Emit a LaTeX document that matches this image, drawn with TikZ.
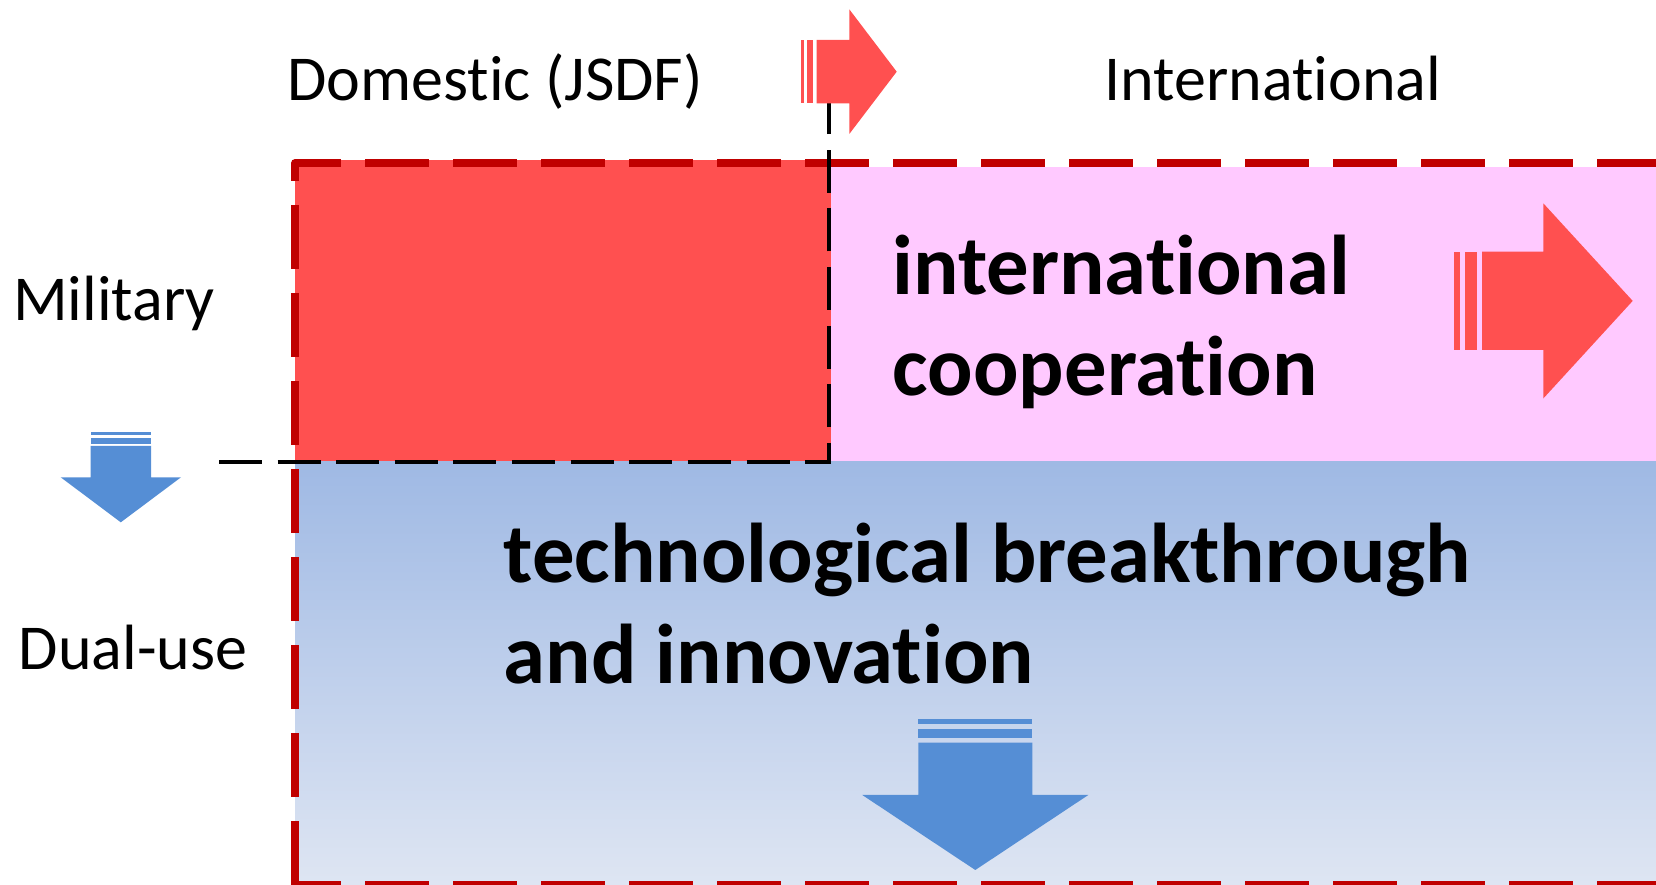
\documentclass[tikz,border=0pt]{standalone}
\usepackage{fontspec}
\setmainfont{Carlito}[Ligatures={NoCommon}]
\usepackage{tikz}
\usetikzlibrary{positioning}
\definecolor{boxred}{HTML}{FF5050}
\definecolor{edgered}{HTML}{C00000}
\definecolor{coopink}{HTML}{FFC9FF}
\definecolor{arrowblue}{HTML}{558ED5}
\definecolor{techtop}{HTML}{9FB9E4}
\definecolor{techbottom}{HTML}{DFE6F3}
\tikzset{
	axistext/.style={font=\fontsize{18.2}{22}\selectfont, inner sep=0pt, anchor=base},
	bigtext/.style={font=\fontsize{24.1}{29}\selectfont\bfseries, inner sep=0pt, anchor=base west},
	edgeline/.style={line width=2.13pt, color=edgered, dash pattern=on 18.2pt off 6.83pt},
	splitline/.style={line width=1.4pt, color=black, dash pattern=on 12.2pt off 4.47pt}
}

\begin{document}
\begin{tikzpicture}[x=0.01cm, y=-0.01cm]
			%%%%% START %%%%%
			\useasboundingbox (0, 0) rectangle (1656, 885);
			
			\fill[boxred] (295, 160) rectangle (831, 462);
			\fill[coopink] (831, 167) rectangle (1700, 462);
			\shade[top color=techtop, bottom color=techbottom] (295, 462) rectangle (1700, 890);
			
			\draw[edgeline, line join=round] (295, 181) -- (295, 163) -- (1700, 163);
			\draw[edgeline, dash phase=18.2pt] (295, 181) -- (295, 884.5);
			\draw[edgeline, dash phase=4.05pt] (291.25, 884.5) -- (1700, 884.5);
			
			\draw[splitline] (219, 462) -- (829, 462) -- (829, 103);
			
			% top arrow
			\fill[boxred] (801.3, 40) rectangle (804.3, 103.3);
			\fill[boxred] (806.7, 40) rectangle (813.3, 103.3);
			\fill[boxred] (816.7, 40) -- (849.3, 40) -- (849.3, 9.3) -- (896.7, 71.7) -- (849.3, 134) -- (849.3, 103.3) -- (816.7, 103.3) -- cycle;
			
			% right arrow
			\fill[boxred] (1454, 251.7) rectangle (1460, 350);
			\fill[boxred] (1465, 251.7) rectangle (1476.7, 350);
			\fill[boxred] (1482, 251.7) -- (1543.3, 251.7) -- (1543.3, 203.3) -- (1632.7, 300.9) -- (1543.3, 398.5) -- (1543.3, 350) -- (1482, 350) -- cycle;
			
			% left arrow
			\fill[arrowblue] (90.7, 432) rectangle (151, 434.7);
			\fill[arrowblue] (90.7, 437.7) rectangle (151, 443.7);
			\fill[arrowblue] (90.7, 446) -- (90.7, 477.3) -- (60.7, 477.3) -- (120.8, 522.3) -- (181, 477.3) -- (151, 477.3) -- (151, 446) -- cycle;
			
			% bottom arrow
			\fill[arrowblue] (918.3, 719.3) rectangle (1032.3, 724);
			\fill[arrowblue] (918.3, 729) rectangle (1032.3, 738.3);
			\fill[arrowblue] (918.3, 742.7) -- (918.3, 795) -- (862.3, 795) -- (975.3, 870) -- (1088.3, 795) -- (1032.3, 795) -- (1032.3, 742.7) -- cycle;
			
			\node[axistext] (domestic) at (495, 100.7) {Domestic (JSDF)};
			\node[axistext] (international) at (1273, 100.7) {International};
			\node[axistext] (military) at (114, 321) {Military};
			\node[axistext] (dualuse) at (133, 670) {Dual-use};
			
			\node[bigtext] (coopA) at (892, 295) {international};
			\node[bigtext, below=1cm of coopA.base west, anchor=base west] (coopB) {cooperation};
			\node[bigtext] (techA) at (503, 583) {technological breakthrough};
			\node[bigtext, below=1cm of techA.base west, anchor=base west] (techB) {and innovation};
			
			%%%%% END %%%%%
\end{tikzpicture}
\end{document}
